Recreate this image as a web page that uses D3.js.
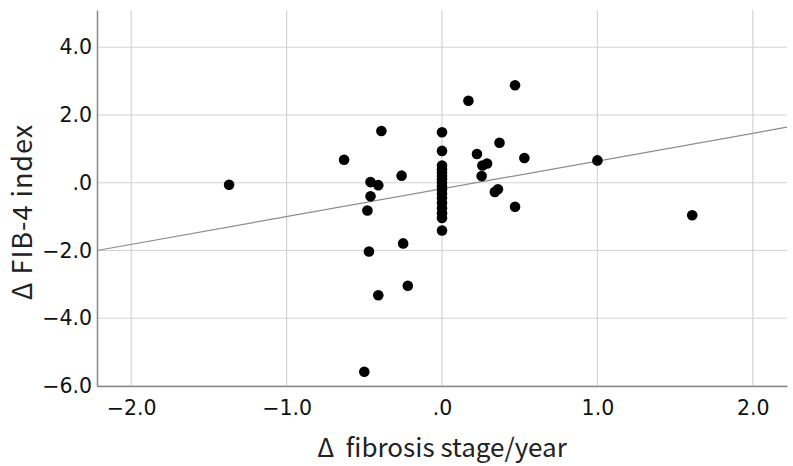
<!DOCTYPE html>
<html>
<head>
<meta charset="utf-8">
<script src="https://cdn.jsdelivr.net/npm/d3@7"></script>
<style>
  body { margin: 0; background: #fff; }
  text { font-family: "Noto Sans CJK JP", "Noto Sans", sans-serif; }
</style>
</head>
<body>
<div id="container"></div>
<script>
var w = 793;
var h = 466;

// Δ fibrosis stage/year
var dFibrosis = [-1.37, -0.63, -0.39, -0.26, -0.46, -0.41, -0.46, -0.48, -0.47, -0.25,
  -0.22, -0.41, -0.50,
  0, 0, 0, 0, 0, 0, 0, 0, 0, 0, 0, 0, 0, 0, 0, 0, 0,
  0.17, 0.47, 0.37, 0.225, 0.53, 0.26, 0.29, 0.255, 0.34, 0.36, 0.47, 1.0, 1.61];
// Δ FIB-4 index
var dFib4 = [-0.06, 0.68, 1.53, 0.21, 0.02, -0.07, -0.40, -0.82, -2.03, -1.79,
  -3.04, -3.32, -5.58,
  1.49, 0.94, 0.51, 0.40, 0.30, 0.20, 0.10, 0.0, -0.10, -0.20, -0.32, -0.45, -0.60, -0.75, -0.90, -1.04, -1.41,
  2.42, 2.88, 1.18, 0.85, 0.73, 0.51, 0.57, 0.20, -0.27, -0.19, -0.71, 0.66, -0.96];

// fit line  y = a + b x
var fitIntercept = -0.18;
var fitSlope = 0.82;

var xTicks = [-2, -1, 0, 1, 2];
var yTicks = [-6, -4, -2, 0, 2, 4];

var margin = {top: 10, right: 6, bottom: 80, left: 97};

var svg = d3.select("div#container").append("svg")
  .attr("width", w).attr("height", h)
  .style("background-color", "white");

var x = d3.scaleLinear().domain([-2.22, 2.22]).range([margin.left, w - margin.right]);
var y = d3.scaleLinear().domain([-6, 5.1]).range([h - margin.bottom, margin.top]);

var fmt = function(d) { return d === 0 ? ".0" : d3.format(".1f")(d); };

// grid
svg.append("g").selectAll("line")
  .data(xTicks).enter().append("line")
  .attr("x1", function(d) { return x(d); }).attr("x2", function(d) { return x(d); })
  .attr("y1", y.range()[1]).attr("y2", y.range()[0])
  .attr("stroke", "#d4d4d4").attr("stroke-width", 1.2);
svg.append("g").selectAll("line")
  .data(yTicks).enter().append("line")
  .attr("x1", x.range()[0]).attr("x2", x.range()[1])
  .attr("y1", function(d) { return y(d); }).attr("y2", function(d) { return y(d); })
  .attr("stroke", "#d4d4d4").attr("stroke-width", 1.2);

// axes
var xAxis = svg.append("g")
  .attr("transform", "translate(0," + y.range()[0] + ")")
  .call(d3.axisBottom(x).tickValues(xTicks).tickFormat(fmt).tickSize(0).tickPadding(14));
var yAxis = svg.append("g")
  .attr("transform", "translate(" + x.range()[0] + ",0)")
  .call(d3.axisLeft(y).tickValues(yTicks).tickFormat(fmt).tickSize(0).tickPadding(5));

[xAxis, yAxis].forEach(function(a) {
  a.select(".domain").attr("stroke", "#888").attr("stroke-width", 1.5);
  a.selectAll("text")
    .attr("fill", "#111")
    .style("font-size", "20.5px")
    .style("font-family", "'DejaVu Sans', sans-serif");
});

// regression line
var xd = x.domain();
svg.append("line")
  .attr("x1", x(xd[0])).attr("y1", y(fitIntercept + fitSlope * xd[0]))
  .attr("x2", x(xd[1])).attr("y2", y(fitIntercept + fitSlope * xd[1]))
  .attr("stroke", "#8c8c8c").attr("stroke-width", 1.2);

// points
svg.append("g").selectAll("circle")
  .data(d3.range(dFibrosis.length)).enter().append("circle")
  .attr("cx", function(i) { return x(dFibrosis[i]); })
  .attr("cy", function(i) { return y(dFib4[i]); })
  .attr("r", 5.3)
  .attr("fill", "#000");

// titles
svg.append("text")
  .attr("x", x(0)).attr("y", 457)
  .attr("text-anchor", "middle")
  .attr("fill", "#222")
  .style("font-size", "26px")
  .style("white-space", "pre")
  .text("Δ  fibrosis stage/year");

svg.append("text")
  .attr("transform", "translate(32,212) rotate(-90)")
  .attr("text-anchor", "middle")
  .attr("fill", "#222")
  .style("font-size", "27px")
  .style("letter-spacing", "1px")
  .text("Δ FIB-4 index");
</script>
</body>
</html>
